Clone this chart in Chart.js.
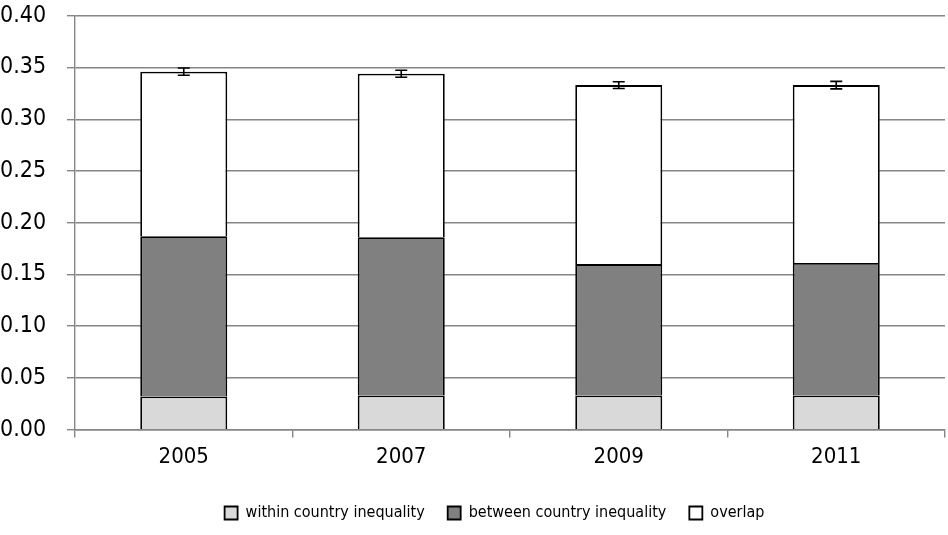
<!DOCTYPE html>
<html>
<head>
<meta charset="utf-8">
<script src="https://cdn.jsdelivr.net/npm/chart.js@4"></script>
<style>
  html, body { margin: 0; padding: 0; background: #fff; }
  #wrap { width: 948px; height: 535px; }
</style>
</head>
<body>
<div id="wrap"><canvas id="chart" width="948" height="535"></canvas></div>
<script>
// Inequality decomposition by year (stacked), with error bars on the total
const years = ['2005', '2007', '2009', '2011'];
const withinCountry = [0.032, 0.033, 0.033, 0.033];
const betweenCountry = [0.155, 0.153, 0.127, 0.128];
const overlap = [0.159, 0.158, 0.173, 0.172];
const totalError = [0.0035, 0.0034, 0.0033, 0.0036];

const FONT = "'DejaVu Sans Condensed', 'DejaVu Sans', sans-serif";

// draws the error bars on top of each stack
const errorBars = {
    id: 'errorBars',
    afterLayout(chart) {
        // legend sits a little right of centre in the original
        chart.legend.left += 22;
        chart.legend.right += 22;
    },
    afterDatasetsDraw(chart) {
        const ctx = chart.ctx;
        const yScale = chart.scales.y;
        const meta = chart.getDatasetMeta(chart.data.datasets.length - 1);
        ctx.save();
        ctx.strokeStyle = '#000';
        ctx.lineWidth = 1.6;
        meta.data.forEach((bar, i) => {
            const total = withinCountry[i] + betweenCountry[i] + overlap[i];
            const yHi = yScale.getPixelForValue(total + totalError[i]);
            const yLo = yScale.getPixelForValue(total - totalError[i]);
            const x = bar.x;
            ctx.beginPath();
            ctx.moveTo(x, yHi);
            ctx.lineTo(x, yLo);
            ctx.moveTo(x - 6, yHi);
            ctx.lineTo(x + 6, yHi);
            ctx.moveTo(x - 6, yLo);
            ctx.lineTo(x + 6, yLo);
            ctx.stroke();
        });
        ctx.restore();
    }
};

const ctx = document.getElementById('chart').getContext('2d');
new Chart(ctx, {
    type: 'bar',
    data: {
        labels: years,
        datasets: [
            {
                label: 'within country inequality',
                data: withinCountry,
                backgroundColor: '#d9d9d9',
                borderColor: '#000',
                borderWidth: 1.8
            },
            {
                label: 'between country inequality',
                data: betweenCountry,
                backgroundColor: '#808080',
                borderColor: '#000',
                borderWidth: 1.8
            },
            {
                label: 'overlap',
                data: overlap,
                backgroundColor: '#ffffff',
                borderColor: '#000',
                borderWidth: 1.8
            }
        ]
    },
    options: {
        responsive: false,
        animation: false,
        categoryPercentage: 0.8,
        barPercentage: 0.5,
        layout: { padding: { left: 0, right: 3, top: 0, bottom: 4 } },
        plugins: {
            legend: {
                position: 'bottom',
                title: {
                    display: true,
                    text: '',
                    font: { size: 5 },
                    padding: 0
                },
                labels: {
                    color: '#000',
                    font: { family: FONT, size: 16 },
                    boxWidth: 13,
                    boxHeight: 13,
                    padding: 23
                }
            },
            tooltip: { enabled: false }
        },
        scales: {
            x: {
                stacked: true,
                grid: {
                    drawOnChartArea: false,
                    color: '#868686',
                    lineWidth: 1.4,
                    tickLength: 8
                },
                border: { color: '#868686', width: 1.4 },
                ticks: {
                    color: '#000',
                    font: { family: FONT, size: 22 },
                    padding: 6
                }
            },
            y: {
                stacked: true,
                min: 0,
                max: 0.4,
                afterFit: scale => { scale.width = 75; },
                grid: {
                    color: '#868686',
                    lineWidth: 1.4,
                    tickLength: 8
                },
                border: { color: '#868686', width: 1.4 },
                ticks: {
                    stepSize: 0.05,
                    color: '#000',
                    font: { family: FONT, size: 23 },
                    padding: 2,
                    crossAlign: 'far',
                    callback: v => v.toFixed(2)
                }
            }
        }
    },
    plugins: [errorBars]
});
</script>
</body>
</html>
